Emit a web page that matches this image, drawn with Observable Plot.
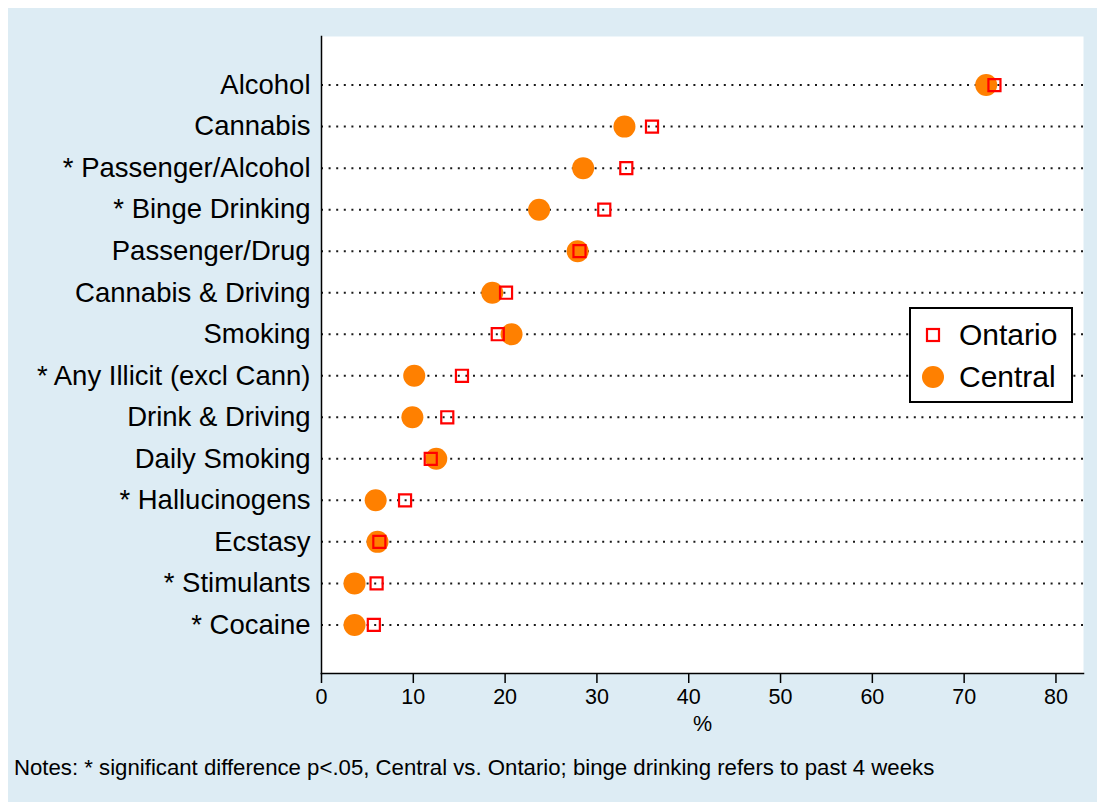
<!DOCTYPE html>
<html>
<head>
<meta charset="utf-8">
<script src="https://cdn.jsdelivr.net/npm/d3@7"></script>
<script src="https://cdn.jsdelivr.net/npm/@observablehq/plot@0.6"></script>
<style>
  html, body { margin: 0; padding: 0; background: #ffffff; width: 1097px; height: 802px; overflow: hidden; }
  #bg { position: absolute; left: 8px; top: 8px; right: 0; bottom: 0; background: rgb(221,236,244); }
  #chart { position: absolute; left: 0; top: 0; }
  #legend { position: absolute; left: 909px; top: 307px; width: 160px; height: 92px; background: #fff; border: 2px solid #000;
            font-family: "Liberation Sans", Arial, sans-serif; font-size: 30px; color: #000; }
  .item { position: absolute; left: 0; height: 40px; display: flex; align-items: center; }
  .item svg { position: absolute; left: 10px; }
  .item span { position: absolute; left: 48px; white-space: nowrap; }
  #notes { position: absolute; left: 14px; top: 755px; font-family: "Liberation Sans", Arial, sans-serif; font-size: 22.2px; color: #000; white-space: nowrap; }
</style>
</head>
<body>
<div id="bg"></div>
<div id="chart"></div>
<div id="legend"></div>
<div id="notes"></div>
<script>
const categories = ["Alcohol", "Cannabis", "* Passenger/Alcohol", "* Binge Drinking", "Passenger/Drug",
  "Cannabis & Driving", "Smoking", "* Any Illicit (excl Cann)", "Drink & Driving", "Daily Smoking",
  "* Hallucinogens", "Ecstasy", "* Stimulants", "* Cocaine"];
const ontario = [73.3, 36.0, 33.2, 30.8, 28.1, 20.1, 19.2, 15.3, 13.7, 11.9, 9.1, 6.3, 6.0, 5.7];
const central = [72.4, 33.0, 28.5, 23.7, 27.9, 18.6, 20.7, 10.1, 9.9, 12.5, 5.9, 6.1, 3.6, 3.6];
const xTicks = [0, 10, 20, 30, 40, 50, 60, 70, 80];
const seriesNames = ["Ontario", "Central"];
const axisLabel = "%";
const notesText = "Notes: * significant difference p<.05, Central vs. Ontario; binge drinking refers to past 4 weeks";

const rows = categories.map((c, i) => ({category: c, ontario: ontario[i], central: central[i]}));
const font = "'Liberation Sans', Arial, sans-serif";

const chart = Plot.plot({
  width: 1097,
  height: 740,
  marginTop: 36,
  marginBottom: 67,
  marginLeft: 321,
  marginRight: 14,
  style: {fontFamily: font, background: "transparent", color: "#000"},
  x: {domain: [0, 83]},
  y: {type: "point", domain: categories, padding: 1.17, round: false},
  marks: [
    Plot.frame({fill: "white", stroke: "none"}),
    Plot.ruleY(categories, {y: d => d, stroke: "#000", strokeWidth: 2, strokeDasharray: "2,5.6", strokeOpacity: 0.9}),
    Plot.frame({anchor: "left", stroke: "#000", strokeWidth: 1.5}),
    Plot.frame({anchor: "bottom", stroke: "#000", strokeWidth: 1.5}),
    Plot.axisY({tickSize: 0, tickPadding: 11, fontSize: 27.5, label: null, fill: "#000"}),
    Plot.axisX({ticks: xTicks, tickSize: 10, tickPadding: 5, fontSize: 21.5, label: axisLabel,
                labelAnchor: "center", labelArrow: "none", labelOffset: 57, fill: "#000", stroke: "#000", strokeWidth: 1.5}),
    Plot.dot(rows, {x: "central", y: "category", r: 11, fill: "rgb(255,128,0)", stroke: "none"}),
    Plot.dot(rows, {x: "ontario", y: "category", r: 6.8, symbol: "square", fill: "none", stroke: "rgb(255,0,0)", strokeWidth: 2.2})
  ]
});
document.getElementById("chart").appendChild(chart);

// legend
const legend = document.getElementById("legend");
seriesNames.forEach((name, i) => {
  const item = document.createElement("div");
  item.className = "item";
  item.style.top = (6 + i * 42) + "px";
  const sym = i === 0
    ? `<svg width="24" height="24"><rect x="6" y="6" width="12" height="12" fill="none" stroke="rgb(255,0,0)" stroke-width="2.2"/></svg>`
    : `<svg width="24" height="24"><circle cx="12" cy="12" r="11" fill="rgb(255,128,0)"/></svg>`;
  item.innerHTML = sym + `<span>${name}</span>`;
  legend.appendChild(item);
});
document.getElementById("notes").textContent = notesText;
</script>
</body>
</html>
